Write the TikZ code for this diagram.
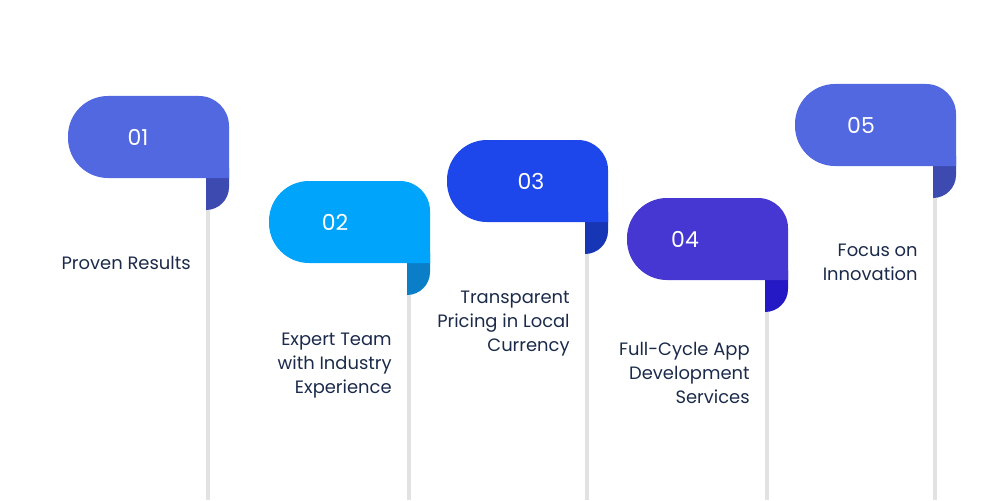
\documentclass[tikz,border=0pt]{standalone}
\usepackage{fontspec}
\setmainfont{Poppins}
\usetikzlibrary{positioning}
\definecolor{navy}{HTML}{1B2A4A}
\definecolor{tabA}{HTML}{5268E0}\definecolor{foldA}{HTML}{3D4AB0}
\definecolor{tabB}{HTML}{00A5FB}\definecolor{foldB}{HTML}{0A7FC8}
\definecolor{tabC}{HTML}{1D47EB}\definecolor{foldC}{HTML}{1736B5}
\definecolor{tabD}{HTML}{4637D2}\definecolor{foldD}{HTML}{2419C4}
\definecolor{poleGray}{HTML}{E2E2E2}
\tikzset{
  num/.style={text=white, font=\fontsize{12.5}{14}\selectfont},
  lbl/.style={text=navy, align=right, anchor=north east, inner sep=0pt,
    font=\fontsize{10.2}{13.6}\selectfont},
  pole/.style={draw=poleGray, line width=2.3pt}
}
\begin{document}
\begin{tikzpicture}[x=0.02cm, y=-0.02cm]
  \useasboundingbox (0,0) rectangle (1000,500);
  % x-left, top, number x, colour, fold colour, label top, label
  \foreach \xl/\yt/\nx/\col/\fcol/\ly/\txt/\n in {
      68/96/138/tabA/foldA/256/{Proven Results}/1,
      269/181/335/tabB/foldB/333/{Expert Team\\with Industry\\Experience}/2,
      447/140/531/tabC/foldC/291/{Transparent\\Pricing in Local\\Currency}/3,
      627/198/685/tabD/foldD/342/{Full-Cycle App\\Development\\Services}/4,
      795/84/861/tabA/foldA/244/{Focus on\\Innovation}/5} {
    \pgfmathsetmacro{\xr}{\xl+161}
    \pgfmathsetmacro{\yb}{\yt+82}
    \pgfmathsetmacro{\yf}{\yt+114}
    % pole
    \coordinate (pole\n-top) at (\xr-21,\yf);
    \coordinate (pole\n-end) at (\xr-21,500);
    \draw[pole] (pole\n-top) -- (pole\n-end);
    % fold
    \fill[\fcol] (\xr-23,\yb-10) -- (\xr,\yb-10) [rounded corners=0.46cm]
      -- (\xr,\yf) [sharp corners] -- (\xr-23,\yf) -- cycle;
    % tab
    \fill[\col] (\xr,\yb) [rounded corners=0.8cm] -- (\xl,\yb) -- (\xl,\yt)
      [rounded corners=0.6cm] -- (\xr,\yt) [sharp corners] -- cycle;
    \node[num] (num\n) at (\nx,\yt+41) {0\n};
    \node[lbl] (lbl\n) at (\xr-38,\ly) {\txt};
  }
\end{tikzpicture}
\end{document}
